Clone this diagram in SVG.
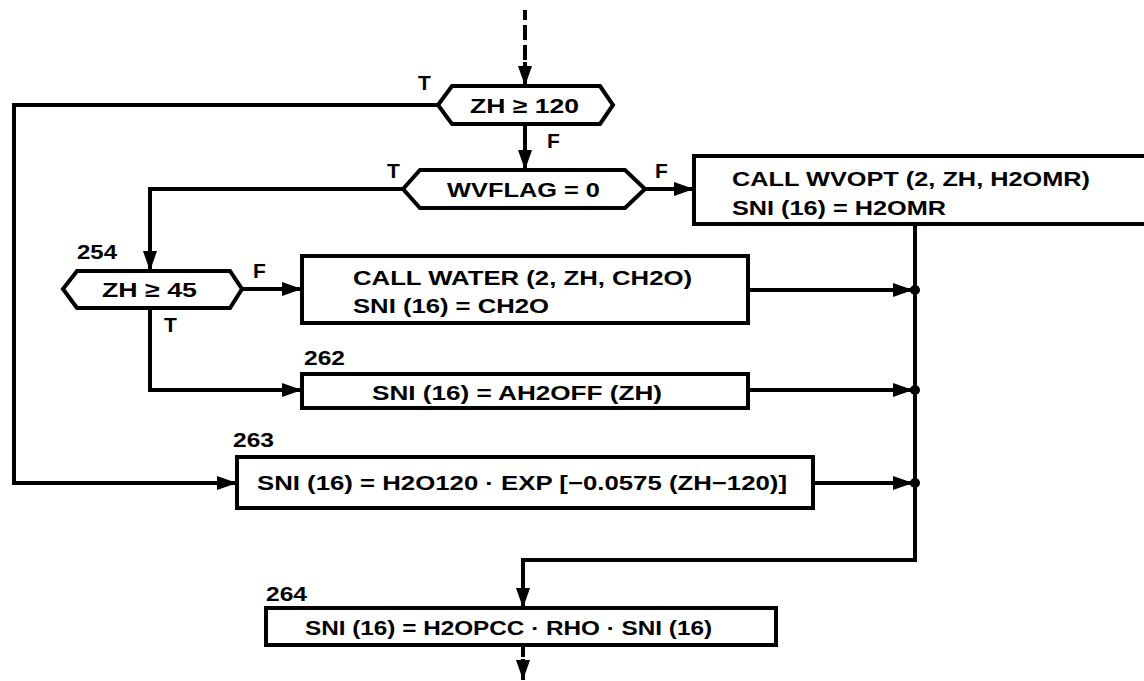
<svg xmlns="http://www.w3.org/2000/svg" width="1144" height="681" viewBox="0 0 1144 681">
<style>
.ln{fill:none;stroke:#000;stroke-width:4;stroke-linejoin:miter}
.sh{fill:#fff;stroke:#000;stroke-width:4;stroke-linejoin:miter}
.t{font-family:"Liberation Sans",Arial,sans-serif;font-weight:bold;font-size:21px;fill:#000}
.dot{fill:#000}
</style>
<defs>
<marker id="ah" markerUnits="userSpaceOnUse" markerWidth="22" markerHeight="16" refX="20" refY="8" orient="auto">
<path d="M0,1 L20,8 L0,15 Z" fill="#000"/>
</marker>
</defs>
<rect width="1144" height="681" fill="#fff"/>
<g id="connectors">
<path class="ln" d="M525,10 V20 M525,25 V40 M525,45 V60"/>
<path class="ln" d="M525,62 V86" marker-end="url(#ah)"/>
<path class="ln" d="M525,124 V170" marker-end="url(#ah)"/>
<path class="ln" d="M645,189 H694" marker-end="url(#ah)"/>
<path class="ln" d="M438,105 H14 V483 H237" marker-end="url(#ah)"/>
<path class="ln" d="M403,189 H150 V271" marker-end="url(#ah)"/>
<path class="ln" d="M242,289 H302" marker-end="url(#ah)"/>
<path class="ln" d="M150,308 V390 H302" marker-end="url(#ah)"/>
<path class="ln" d="M748,290 H913" marker-end="url(#ah)"/>
<path class="ln" d="M748,390 H913" marker-end="url(#ah)"/>
<path class="ln" d="M813,483 H913" marker-end="url(#ah)"/>
<path class="ln" d="M915,224 V560 H523 V608" marker-end="url(#ah)"/>
<path class="ln" d="M523,645 V657"/>
<path class="ln" d="M523,659 V680" marker-end="url(#ah)"/>
<circle class="dot" cx="915" cy="290" r="5"/>
<circle class="dot" cx="915" cy="390" r="5"/>
<circle class="dot" cx="915" cy="483" r="5"/>
<text class="t" x="418" y="90">T</text>
<text class="t" x="547" y="148">F</text>
<text class="t" x="387" y="178">T</text>
<text class="t" x="655" y="178">F</text>
<text class="t" x="253" y="278">F</text>
<text class="t" x="164" y="332">T</text>
</g>
<g id="n_zh120">
<polygon class="sh" points="438,105 452,86 600,86 613,105 600,124 452,124"/>
<text class="t" x="470" y="113" textLength="109" lengthAdjust="spacingAndGlyphs">ZH ≥ 120</text>
</g>
<g id="n_wvflag">
<polygon class="sh" points="403,189 420,170 625,170 645,189 625,208 420,208"/>
<text class="t" x="447" y="197" textLength="153" lengthAdjust="spacingAndGlyphs">WVFLAG = 0</text>
</g>
<g id="n_wvopt">
<rect class="sh" x="694" y="156" width="470" height="68"/>
<text class="t" x="732" y="186" textLength="358" lengthAdjust="spacingAndGlyphs">CALL WVOPT (2, ZH, H2OMR)</text>
<text class="t" x="732" y="215" textLength="214" lengthAdjust="spacingAndGlyphs">SNI (16) = H2OMR</text>
</g>
<g id="n_zh45">
<text class="t" x="77" y="259" textLength="40" lengthAdjust="spacingAndGlyphs">254</text>
<polygon class="sh" points="63,289 77,271 230,271 242,289 230,308 77,308"/>
<text class="t" x="102" y="297" textLength="95" lengthAdjust="spacingAndGlyphs">ZH ≥ 45</text>
</g>
<g id="n_water">
<rect class="sh" x="302" y="256" width="446" height="67"/>
<text class="t" x="353" y="285" textLength="339" lengthAdjust="spacingAndGlyphs">CALL WATER (2, ZH, CH2O)</text>
<text class="t" x="353" y="313" textLength="196" lengthAdjust="spacingAndGlyphs">SNI (16) = CH2O</text>
</g>
<g id="n_262">
<text class="t" x="304" y="365" textLength="41" lengthAdjust="spacingAndGlyphs">262</text>
<rect class="sh" x="302" y="374" width="446" height="34"/>
<text class="t" x="372" y="400" textLength="290" lengthAdjust="spacingAndGlyphs">SNI (16) = AH2OFF (ZH)</text>
</g>
<g id="n_263">
<text class="t" x="233" y="447" textLength="41" lengthAdjust="spacingAndGlyphs">263</text>
<rect class="sh" x="237" y="457" width="576" height="51"/>
<text class="t" x="257" y="490" textLength="530" lengthAdjust="spacingAndGlyphs">SNI (16) = H2O120 · EXP [−0.0575 (ZH−120)]</text>
</g>
<g id="n_264">
<text class="t" x="266" y="601" textLength="41" lengthAdjust="spacingAndGlyphs">264</text>
<rect class="sh" x="266" y="608" width="510" height="37"/>
<text class="t" x="305" y="635" textLength="407" lengthAdjust="spacingAndGlyphs">SNI (16) = H2OPCC · RHO · SNI (16)</text>
</g>
</svg>
